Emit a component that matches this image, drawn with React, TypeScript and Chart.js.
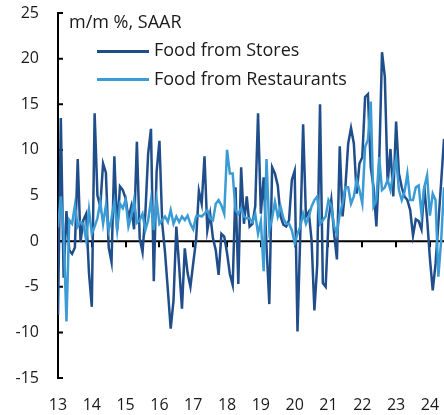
import React, { useEffect, useRef } from 'react';
import { Chart, registerables } from 'chart.js';

Chart.register(...registerables);

// Year tick labels (January of each year)
const yearLabels = ['13', '14', '15', '16', '17', '18', '19', '20', '21', '22', '23', '24'];

// Y axis ticks
const yTickValues = [-15, -10, -5, 0, 5, 10, 15, 20, 25];

// Food from Stores, m/m % SAAR, monthly Jan 2013 – Jun 2024
const foodStores = [
  -8.1, 13.5, -4.0, 3.3, -1.0, -1.4, -0.7, 9.0, -0.1, 2.3, 3.0, -3.5,
  -7.2, 14.0, 5.0, 3.8, 8.5, 7.5, -0.7, -2.3, 9.3, 1.2, 6.0, 5.6,
  4.7, 2.5, 3.8, 1.3, 10.9, 0.3, -1.2, 3.0, 9.6, 12.3, -4.4, 7.6,
  11.0, 1.9, -1.3, -5.4, -9.6, -6.5, 1.6, -2.8, -7.4, -0.8, -3.5, -5.0,
  -2.4, 0.1, 5.5, 4.1, 9.3, 1.2, 3.0, 0.3, -1.0, -3.7, 0.8, 0.5,
  -1.3, -3.6, -4.8, 5.9, -4.7, 8.1, 1.9, 4.9, 1.6, 1.9, 3.8, 14.0,
  3.0, 7.0, -0.5, -6.9, 8.1, 7.4, 6.1, 2.7, 1.8, 1.6, 2.3, 6.7,
  7.7, -9.9, 0.8, 12.8, 2.7, 3.2, 0.1, -7.6, -2.6, 15.0, -4.6, -5.0,
  2.3, 4.5, 0.8, -2.0, 10.4, 2.7, 5.9, 10.7, 12.4, 10.7, 5.2, 8.5,
  9.2, 15.8, 16.1, 8.1, 5.9, 1.6, 8.5, 20.7, 18.0, 6.3, 10.1, 4.9,
  13.1, 7.4, 5.9, 4.9, 4.5, 3.4, 0.6, 2.4, 2.2, 1.3, 6.0, 2.5,
  -1.9, -5.4, -2.5, 2.0, 6.5, 11.2,
];

// Food from Restaurants, m/m % SAAR, monthly Jan 2013 – Jun 2024
const foodRestaurants = [
  1.5, 4.9, 1.0, -8.8, 2.3, 1.9, 3.9, 1.6, 2.1, 1.9, 0.1, 3.4,
  0.8, 1.6, 2.5, 4.3, 1.9, 3.9, 1.2, 2.5, 4.3, 1.2, 4.1, 3.6,
  4.5, 1.6, 2.7, 4.5, 2.0, 2.3, 3.0, 1.2, 2.3, 4.5, 1.2, 4.5,
  1.9, 2.3, 2.7, 2.1, 3.4, 1.9, 2.7, 2.1, 2.7, 2.3, 2.8, 1.9,
  1.3, 2.7, 2.8, 2.7, 3.0, 3.4, 2.5, 2.3, 4.1, 4.5, 3.9, 3.0,
  10.0, 7.4, 7.4, 3.4, 3.0, 3.6, 2.7, 2.5, 2.5, 2.1, 3.0, 0.8,
  2.2, -3.3, 9.0, 1.2, 2.5, 4.3, 2.7, 3.8, 2.5, 1.9, 1.9, 1.2,
  -0.2, 0.8, 1.6, 3.0, 1.9, 2.7, 3.8, 4.5, 4.9, 1.9, 2.3, 2.7,
  4.5, 3.9, 1.6, 0.8, 3.0, 4.1, 5.9, 5.9, 4.1, 4.9, 6.7, 5.6,
  4.1, 10.3, 11.1, 15.3, 3.8, 4.5, 9.2, 5.6, 5.9, 6.7, 5.6, 7.4,
  9.1, 5.6, 4.5, 5.4, 7.4, 4.5, 4.5, 5.9, 6.1, 3.0, 5.9, 7.2,
  2.8, 5.2, 4.5, -3.9, 0.1, 5.9,
];

const seriesNames = ['Food from Stores', 'Food from Restaurants'];
const seriesColors = ['#1f4e8a', '#3b9bd4'];
const unitLabel = 'm/m %, SAAR';

const FONT = '"Open Sans", sans-serif';
const TEXT = '#1a1a1a';

const axesDecor = {
  id: 'axesDecor',
  beforeDatasetsDraw(chart: any) {
    const { ctx, chartArea, scales } = chart;
    const x = scales.x;
    const y = scales.y;
    const y0 = y.getPixelForValue(0);
    ctx.save();
    ctx.strokeStyle = '#000';
    ctx.lineWidth = 2;
    ctx.lineCap = 'butt';
    ctx.beginPath();
    ctx.moveTo(chartArea.left, y0);
    ctx.lineTo(chartArea.right, y0);
    for (let k = 1; k < yearLabels.length; k++) {
      const px = Math.round(x.getPixelForValue(k * 12));
      ctx.moveTo(px, y0);
      ctx.lineTo(px, y0 + 6);
    }
    ctx.stroke();
    const top = y.getPixelForValue(yTickValues[yTickValues.length - 1]);
    const bottom = y.getPixelForValue(yTickValues[0]);
    const left = chartArea.left;
    ctx.beginPath();
    ctx.moveTo(left, top - 1);
    ctx.lineTo(left, bottom + 1);
    for (const v of yTickValues) {
      const py = y.getPixelForValue(v);
      ctx.moveTo(left, py);
      ctx.lineTo(left + 5, py);
    }
    ctx.stroke();
    ctx.restore();
  },
};

export default function App() {
  const canvasRef = useRef<HTMLCanvasElement | null>(null);

  useEffect(() => {
    const canvas = canvasRef.current;
    if (!canvas) return;
    const chart = new Chart(canvas, {
      type: 'line',
      data: {
        datasets: [
          {
            label: seriesNames[1],
            data: foodRestaurants.map((v, i) => ({ x: i, y: v })),
            borderColor: seriesColors[1],
            borderWidth: 2.5,
            pointRadius: 0,
            tension: 0,
            order: 0,
          },
          {
            label: seriesNames[0],
            data: foodStores.map((v, i) => ({ x: i, y: v })),
            borderColor: seriesColors[0],
            borderWidth: 2.5,
            pointRadius: 0,
            tension: 0,
            order: 1,
          },
        ],
      },
      options: {
        animation: false,
        responsive: false,
        devicePixelRatio: 1,
        layout: { padding: { top: 13, right: 0, bottom: 0, left: 0 } },
        plugins: { legend: { display: false }, tooltip: { enabled: false } },
        scales: {
          x: {
            type: 'linear',
            min: 0,
            max: foodStores.length - 1,
            grid: { display: false, drawTicks: false },
            border: { display: false },
            afterBuildTicks: (scale: any) => {
              scale.ticks = yearLabels.map((_, k) => ({ value: k * 12 }));
            },
            afterFit: (scale: any) => {
              scale.height = 37;
              scale.paddingLeft = 0;
              scale.paddingRight = 0;
            },
            ticks: {
              autoSkip: false,
              maxRotation: 0,
              padding: 18,
              color: TEXT,
              font: { family: FONT, size: 16 },
              callback: (value: any) => yearLabels[Math.round(Number(value) / 12)],
            },
          },
          y: {
            min: yTickValues[0],
            max: yTickValues[yTickValues.length - 1],
            grid: { display: false, drawTicks: false },
            border: { display: false },
            afterBuildTicks: (scale: any) => {
              scale.ticks = yTickValues.map((v) => ({ value: v }));
            },
            afterFit: (scale: any) => {
              scale.width = 58;
              scale.paddingTop = 0;
              scale.paddingBottom = 0;
            },
            ticks: {
              padding: 19,
              color: TEXT,
              font: { family: FONT, size: 16 },
              callback: (value: any) => String(value),
            },
          },
        },
      },
      plugins: [axesDecor],
    });
    return () => chart.destroy();
  }, []);

  const textStyle: React.CSSProperties = {
    position: 'absolute',
    fontFamily: FONT,
    fontSize: 18,
    lineHeight: '22px',
    color: TEXT,
    whiteSpace: 'nowrap',
  };

  return (
    <div style={{ position: 'fixed', left: 0, top: 0, width: 444, height: 415, background: '#fff' }}>
      <canvas ref={canvasRef} width={444} height={415} style={{ display: 'block' }} />
      <div style={{ ...textStyle, left: 69, top: 9.7 }}>{unitLabel}</div>
      <div style={{ position: 'absolute', left: 97, top: 49.5, width: 52, height: 3, background: seriesColors[0] }} />
      <div style={{ ...textStyle, left: 154, top: 38.4 }}>{seriesNames[0]}</div>
      <div style={{ position: 'absolute', left: 97, top: 77.5, width: 52, height: 3, background: seriesColors[1] }} />
      <div style={{ ...textStyle, left: 154, top: 67.1 }}>{seriesNames[1]}</div>
    </div>
  );
}
